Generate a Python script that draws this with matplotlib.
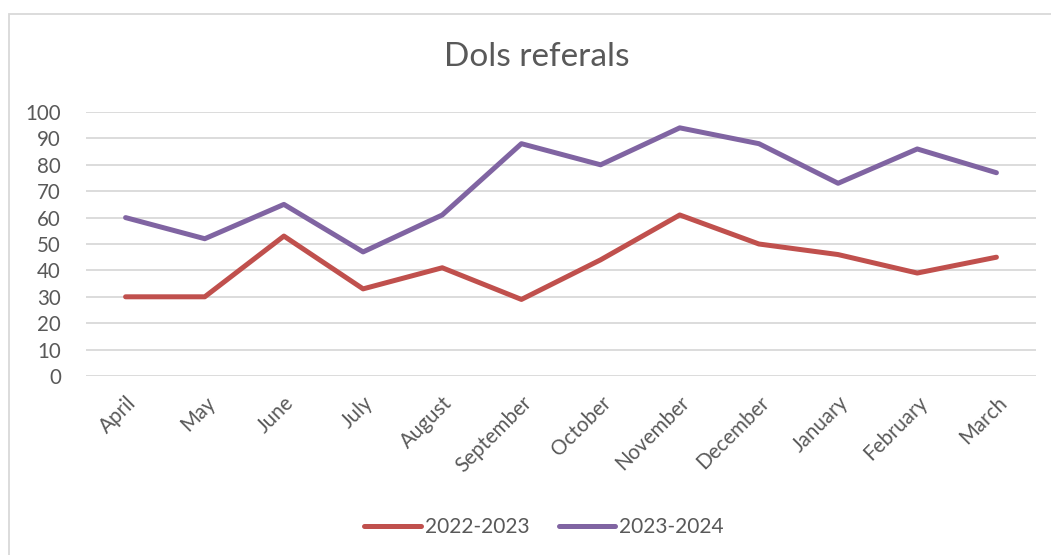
import matplotlib.pyplot as plt
from matplotlib.patches import Rectangle

# data
months = ["April", "May", "June", "July", "August", "September",
          "October", "November", "December", "January", "February", "March"]
y2022_23 = [30, 30, 53, 33, 41, 29, 44, 61, 50, 46, 39, 45]
y2023_24 = [60, 52, 65, 47, 61, 88, 80, 94, 88, 73, 86, 77]
yticks = list(range(0, 101, 10))

TXT = "#595959"
RED = "#C0504D"
PURPLE = "#8064A2"

plt.rcParams['font.family'] = ['Lato', 'DejaVu Sans']

fig = plt.figure(figsize=(10.51, 5.55), dpi=100)
ax = fig.add_axes([86 / 1051, 1 - 376 / 555, 950 / 1051, 264 / 555])

x = range(len(months))
ax.plot(x, y2022_23, color=RED, lw=3.6, solid_capstyle='round',
        solid_joinstyle='round', label="2022-2023", zorder=3)
ax.plot(x, y2023_24, color=PURPLE, lw=3.6, solid_capstyle='round',
        solid_joinstyle='round', label="2023-2024", zorder=3)

ax.set_xlim(-0.5, len(months) - 0.5)
ax.set_ylim(0, 100)
ax.set_yticks(yticks)
ax.set_xticks(list(x))
ax.set_xticklabels(months, rotation=45, ha='right', rotation_mode='anchor')
ax.tick_params(axis='both', length=0, labelsize=14.8, colors=TXT)
ax.tick_params(axis='y', pad=18)
ax.tick_params(axis='x', pad=12)
ax.grid(axis='y', color='#D9D9D9', lw=1.3, zorder=0)
for s in ax.spines.values():
    s.set_visible(False)

fig.text(537 / 1051, 1 - 57 / 555, "Dols referals", ha='center', va='center',
         fontsize=24, color=TXT)

leg = fig.legend(loc='center', bbox_to_anchor=(544 / 1051, 1 - 527 / 555), ncol=2,
                 frameon=False, fontsize=15, handlelength=2.7, handletextpad=0.2,
                 columnspacing=1.4)
for t in leg.get_texts():
    t.set_color(TXT)

# chart border (only left and top visible in the crop)
fig.patches.append(Rectangle((9 / 1051, -0.1), 1.2, 1 - 14 / 555 + 0.1,
                             transform=fig.transFigure, fill=False,
                             ec='#D9D9D9', lw=1.3))

fig.savefig("out.png", dpi=100)
